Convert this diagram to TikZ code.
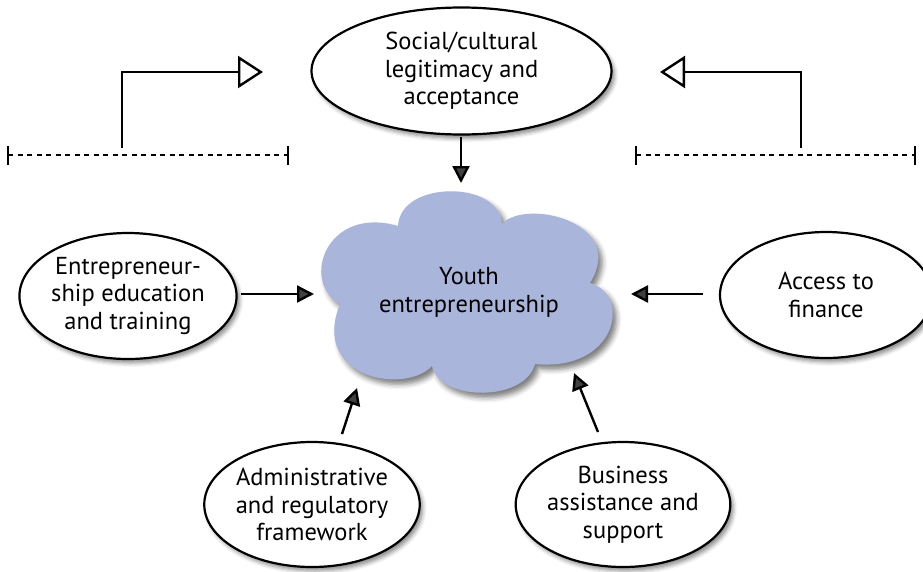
\documentclass[tikz,border=0pt]{standalone}
\usepackage{fontspec}
\setmainfont{PT Sans}
\usetikzlibrary{shapes.geometric,arrows.meta,shadows.blur}
\definecolor{cloudblue}{HTML}{AAB5DB}
\tikzset{
  oval/.style={ellipse, draw=black, line width=2.2pt, fill=white, inner sep=0pt,
    align=center, font=\fontsize{24.5}{27.5}\selectfont,
    blur shadow={shadow xshift=3pt, shadow yshift=-4pt, shadow blur radius=4pt, shadow opacity=45}},
  link/.style={line width=2.4pt, -{Triangle[length=17pt,width=17pt]}},
  feedback/.style={line width=2.4pt, -{Triangle[open,length=25pt,width=32pt,line width=2.4pt]}},
  dashline/.style={line width=2.6pt, dash pattern=on 5pt off 4.5pt},
  tick/.style={line width=2.4pt},
  cloudtext/.style={align=center, font=\fontsize{24.5}{28}\selectfont}
}
\begin{document}
\begin{tikzpicture}[x=1pt,y=-1pt]
\useasboundingbox (0,0) rectangle (923,571);
% cloud
\path[fill=cloudblue, blur shadow={shadow xshift=4pt, shadow yshift=-5pt, shadow blur radius=5pt, shadow opacity=50}]
  (398,226) .. controls (400,180) and (500,180) .. (502,224)
  .. controls (525,198) and (628,222) .. (590,283)
  .. controls (632,295) and (617,372) .. (535,364)
  .. controls (525,402) and (440,402) .. (432,366)
  .. controls (405,395) and (310,378) .. (340,304)
  .. controls (300,282) and (326,205) .. (398,226) -- cycle;
\node[cloudtext] (cloud) at (469,292) {Youth\\entrepreneurship};
\coordinate (cloudtop) at (461,183);
\coordinate (cloudleft) at (314,294);
\coordinate (cloudright) at (631,294);
\coordinate (cloudbl) at (357,388);
\coordinate (cloudbr) at (574,373);

% ellipses
\node[oval, minimum width=300pt, minimum height=127pt] (social) at (461.5,71) {Social/cultural\\legitimacy and\\acceptance};
\node[oval, minimum width=212pt, minimum height=126pt] (edu) at (128,296) {Entrepreneur-\\ship education\\and training};
\node[oval, minimum width=212pt, minimum height=126pt] (fin) at (826,295) {Access to\\finance};
\node[oval, minimum width=214pt, minimum height=125pt] (admin) at (312,504.5) {Administrative\\and regulatory\\framework};
\node[oval, minimum width=212pt, minimum height=125pt] (bus) at (623,504.5) {Business\\assistance and\\support};

% connectors
\coordinate (s1) at (461,137);
\draw[link] (s1) -- (cloudtop);
\coordinate (e1) at (241,294);
\draw[link] (e1) -- (cloudleft);
\coordinate (f1) at (703,294);
\draw[link] (f1) -- (cloudright);
\coordinate (a1) at (342,434);
\draw[link] (a1) -- (cloudbl);
\coordinate (b1) at (598,432);
\draw[link] (b1) -- (cloudbr);

% feedback brackets
\coordinate (lL) at (8,155);
\coordinate (lR) at (288,155);
\draw[dashline] (lL) -- (lR);
\draw[tick] (8,146) -- (8,165);
\draw[tick] (288,146) -- (288,165);
\coordinate (lup) at (122,148);
\coordinate (ltip) at (263,72);
\draw[feedback] (lup) |- (ltip);

\coordinate (rL) at (636,155);
\coordinate (rR) at (915,155);
\draw[dashline] (rL) -- (rR);
\draw[tick] (636,146) -- (636,165);
\draw[tick] (915,146) -- (915,165);
\coordinate (rup) at (801,148);
\coordinate (rtip) at (660,72);
\draw[feedback] (rup) |- (rtip);
\end{tikzpicture}
\end{document}
